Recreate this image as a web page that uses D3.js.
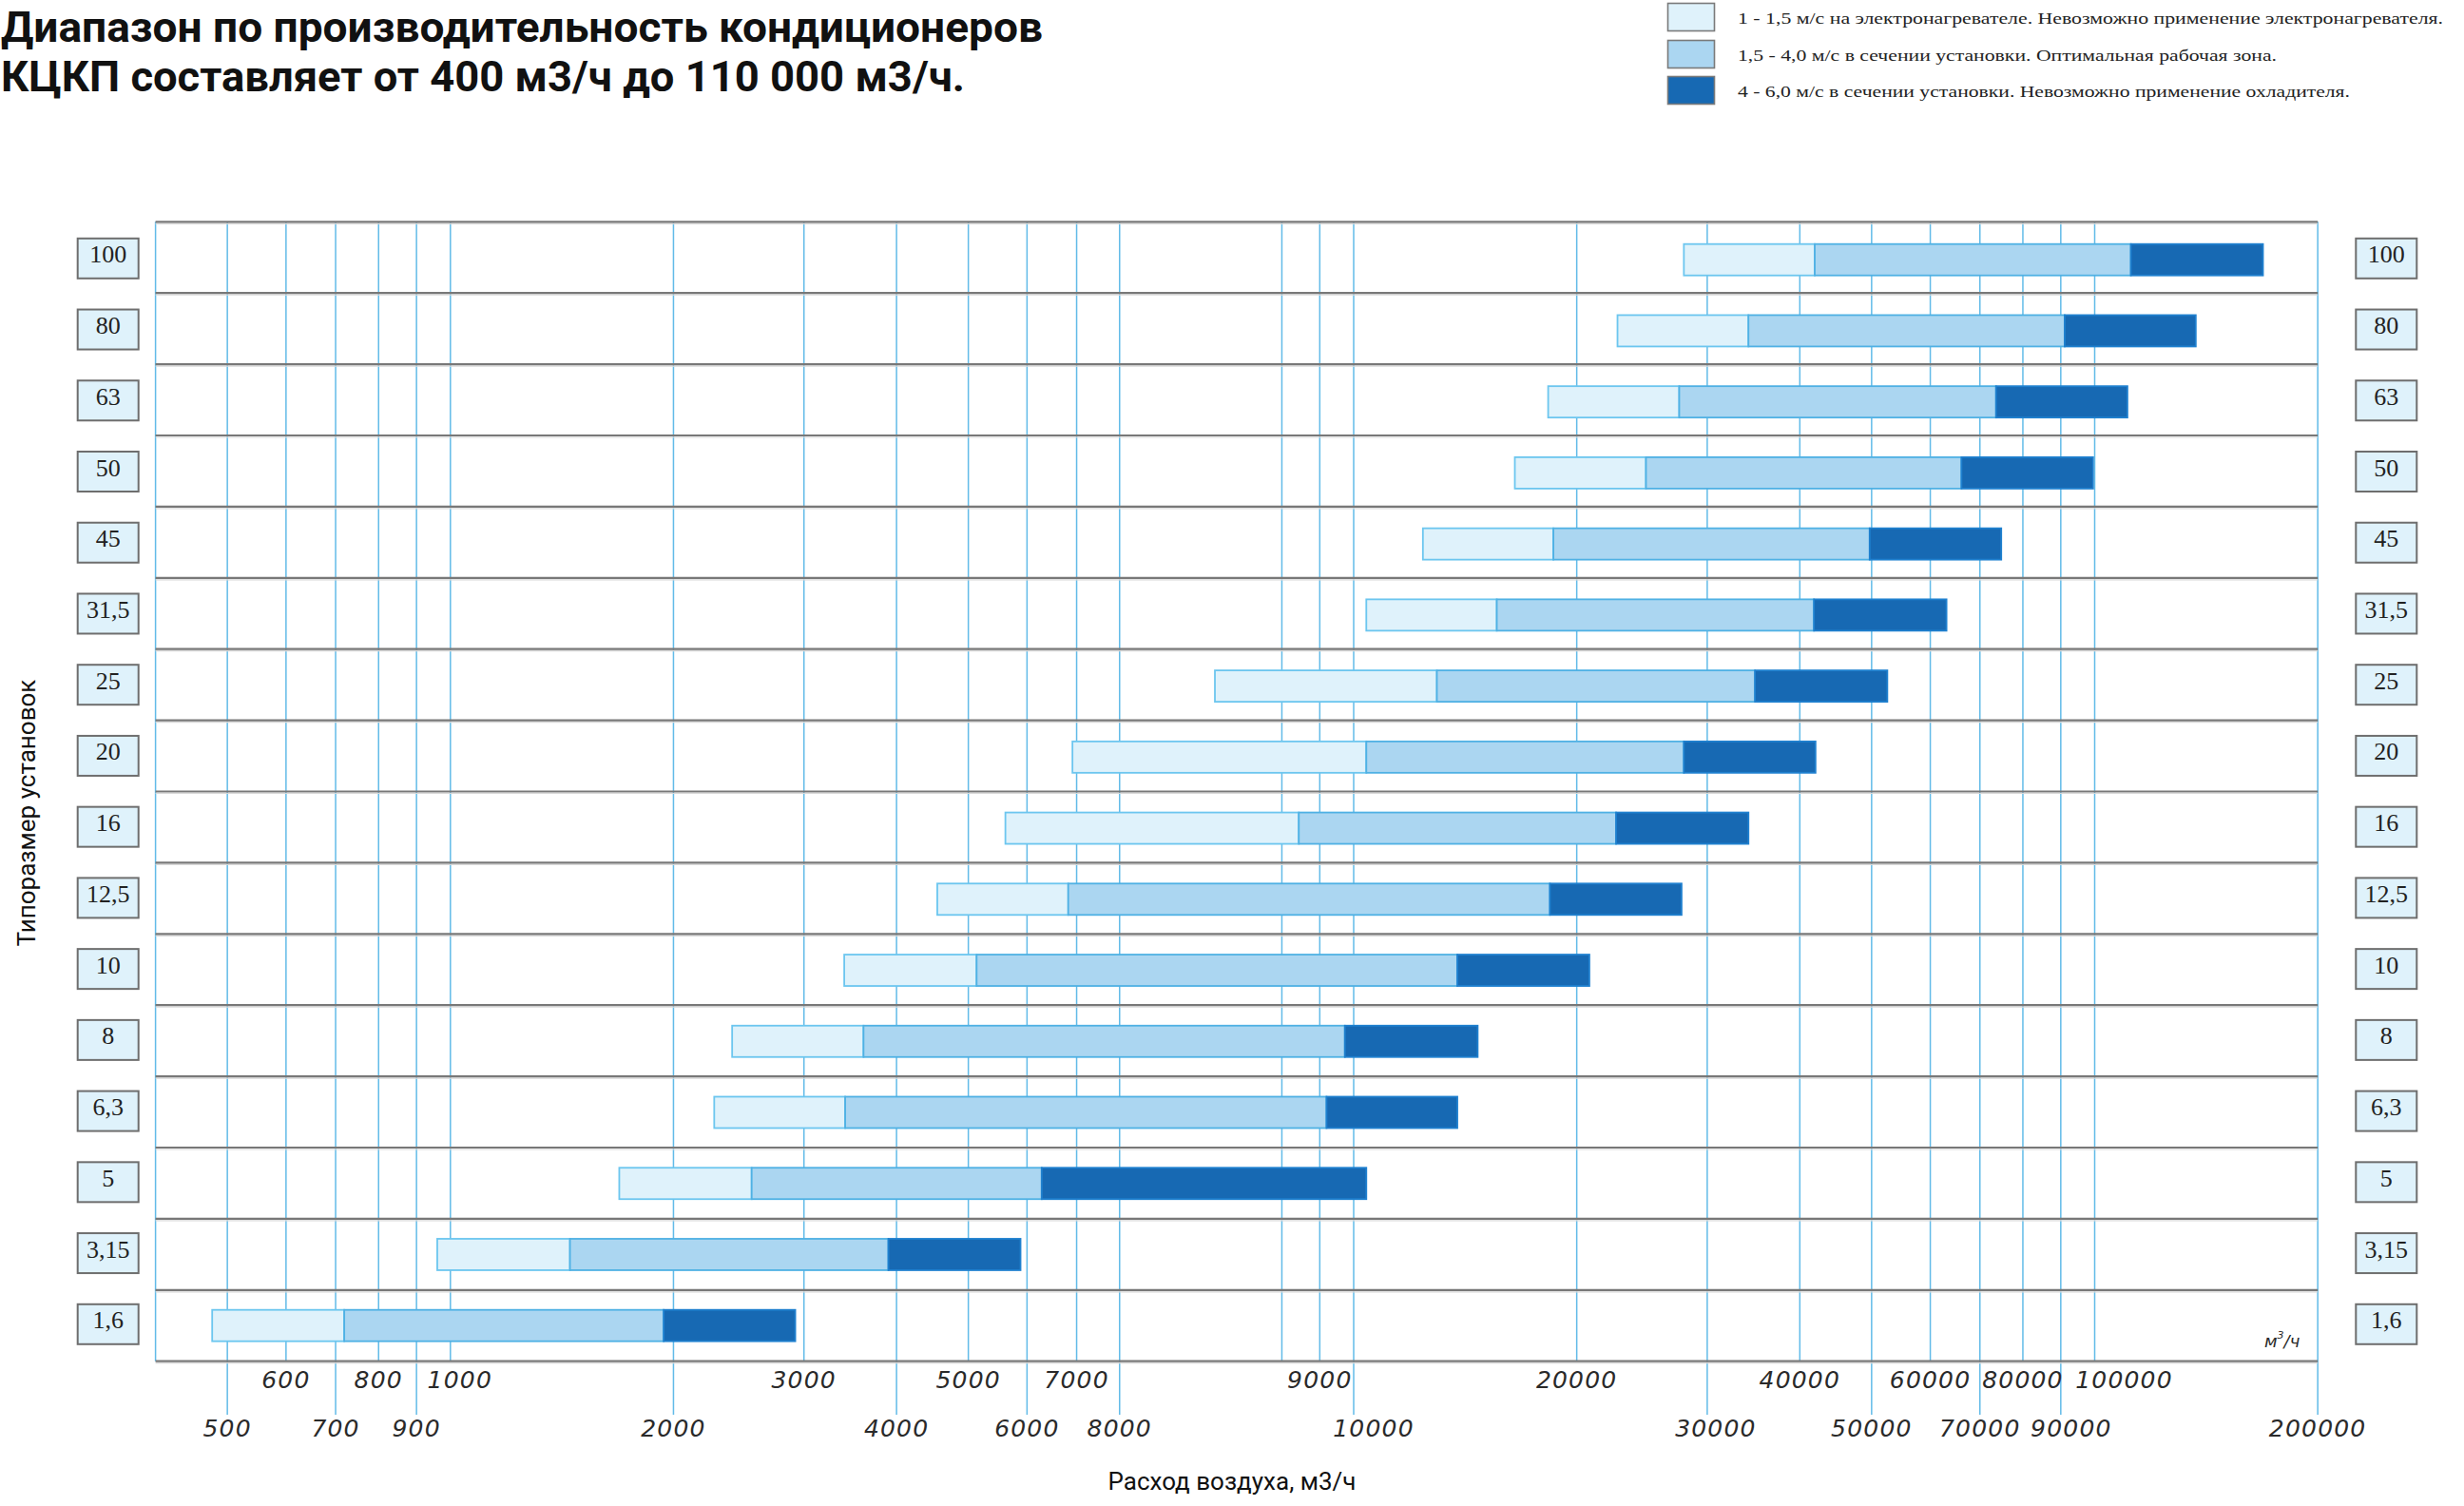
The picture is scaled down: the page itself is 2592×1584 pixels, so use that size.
<!DOCTYPE html>
<html><head><meta charset="utf-8">
<script src="https://cdn.jsdelivr.net/npm/d3@7"></script>
<style>body{margin:0;background:#fff}svg{display:block}</style>
</head><body>
<svg id="c" width="2592" height="1584"></svg>
<script>
// ---------- DATA ----------
const sizes = ["100","80","63","50","45","31,5","25","20","16","12,5","10","8","6,3","5","3,15","1,6"];
// air flow, m3/h, at section velocity 1.0 / 1.5 / 4.0 / 6.0 m/s
const flowV10 = [27900, 22700, 18300, 16500, 12400, 10400, 8290, 6910, 5610, 4540, 3400, 2400, 2270, 1690, 960, 477];
const flowV15 = [41900, 34100, 27500, 24800, 18600, 15600, 12950, 10400, 8720, 6820, 5130, 3610, 3410, 2550, 1450, 719];
const flowV40 = [111900, 91100, 73600, 66100, 49700, 41800, 34800, 27900, 22600, 18400, 13800, 9730, 9190, 6280, 3900, 1940];
const flowV60 = [168700, 136900, 110700, 99500, 74800, 63100, 52500, 42000, 34100, 27700, 20800, 14700, 13800, 10400, 5880, 2920];
const tickTopRow = [600, 800, 1000, 3000, 5000, 7000, 9000, 20000, 40000, 60000, 80000, 100000];
const tickBottomRow = [500, 700, 900, 2000, 4000, 6000, 8000, 10000, 30000, 50000, 70000, 90000, 200000];
const tickUnlabeled = [8500];
const legendLabels = [
  "1 - 1,5 м/с на электронагревателе. Невозможно применение электронагревателя.",
  "1,5 - 4,0 м/с в сечении установки. Оптимальная рабочая зона.",
  "4 - 6,0 м/с в сечении установки. Невозможно применение охладителя."
];
const titleLines = ["Диапазон по производительность кондиционеров", "КЦКП составляет от 400 м3/ч до 110 000 м3/ч."];
const xTitle = "Расход воздуха, м3/ч";
const yTitle = "Типоразмер установок";
const unitLabel = "м";

// ---------- LAYOUT ----------
const svg = d3.select("#c");
const DEC = 779.5, X1K = 473.8, X10K = 1424;
const lx = v => X1K + DEC * Math.log10(v / 1000);
const ux = v => X10K + DEC * Math.log10(v / 10000);
// broken log axis (gap between 8000 and 8500)
const x = d3.scaleLog()
  .domain([400, 8000, 8500, 9000, 200000])
  .range([lx(400), lx(8000), ux(8000), ux(9000), ux(200000)]);
const yTop = 233.3, yBottom = 1431.7;
const yRow = d3.scaleBand().domain(sizes).range([yTop, yBottom]);
const yMark = d3.scalePoint().domain(sizes).range([273.2, 1394.2]);
const xL = x(400), xR = x(200000);

const segFill = ["#dff2fb", "#abd6f1", "#1769b3"];
const segStroke = ["#6cc6ef", "#4fb1e4", "#1f80cf"];
const gridColor = "#62bbe8";
const rowLineColor = "#787878";

// gridlines
const gGrid = svg.append("g");
const allGrid = [...tickTopRow.map(v => ({v, ext: false})),
                 ...tickBottomRow.map(v => ({v, ext: true})),
                 ...tickUnlabeled.map(v => ({v, ext: false}))];
gGrid.selectAll("line").data(allGrid).join("line")
  .attr("x1", d => x(d.v)).attr("x2", d => x(d.v))
  .attr("y1", yTop).attr("y2", d => d.ext ? 1488 : yBottom)
  .attr("stroke", gridColor).attr("stroke-width", 1.5);
gGrid.append("line").attr("x1", xL).attr("x2", xL).attr("y1", yTop).attr("y2", yBottom)
  .attr("stroke", gridColor).attr("stroke-width", 1.5);

// row lines
const rowYs = sizes.map(s => yRow(s)).concat([yBottom]);
svg.append("g").selectAll("line").data(rowYs).join("line")
  .attr("x1", xL).attr("x2", xR).attr("y1", d => d + 2).attr("y2", d => d + 2)
  .attr("stroke", "#d8d8d8").attr("stroke-width", 1.2);
svg.append("g").selectAll("line").data(rowYs).join("line")
  .attr("x1", xL).attr("x2", xR).attr("y1", d => d).attr("y2", d => d)
  .attr("stroke", rowLineColor).attr("stroke-width", 2.2);

// bars
const segs = [];
sizes.forEach((s, i) => {
  const pts = [flowV10[i], flowV15[i], flowV40[i], flowV60[i]];
  for (let k = 0; k < 3; k++) segs.push({s, k, a: pts[k], b: pts[k + 1]});
});
const barH = 33;
svg.append("g").selectAll("rect").data(segs).join("rect")
  .attr("x", d => x(d.a)).attr("width", d => x(d.b) - x(d.a))
  .attr("y", d => yMark(d.s) - barH / 2).attr("height", barH)
  .attr("fill", d => segFill[d.k]).attr("stroke", d => segStroke[d.k]).attr("stroke-width", 1.8);

// size boxes, left and right
const boxW = 64, boxH = 42;
[81.7, 2478.3].forEach(bx => {
  const g = svg.append("g");
  g.selectAll("rect").data(sizes).join("rect")
    .attr("x", bx).attr("y", s => yMark(s) - 1.4 - boxH / 2)
    .attr("width", boxW).attr("height", boxH)
    .attr("fill", "#dff2fb").attr("stroke", "#6e6e6e").attr("stroke-width", 2);
  g.selectAll("text").data(sizes).join("text")
    .attr("x", bx + boxW / 2).attr("y", s => yMark(s) - 1.4 - boxH / 2 + 25.5)
    .attr("text-anchor", "middle")
    .attr("font-family", "'Liberation Serif', 'Times New Roman', serif")
    .attr("font-size", 26).attr("fill", "#222").text(s => s);
});

// tick labels
const dxMap = {1000: 10, 10000: 21, 100000: 31, 30000: 9, 90000: 11};
const tickFont = g => g.attr("font-family", "'DejaVu Sans', sans-serif").attr("font-style", "italic")
  .attr("font-size", 25).attr("letter-spacing", 1.2).attr("fill", "#2a2a2a").attr("text-anchor", "middle");
svg.append("g").call(tickFont).selectAll("text").data(tickTopRow).join("text")
  .attr("x", v => x(v) + (dxMap[v] || 0)).attr("y", 1460).text(v => String(v));
svg.append("g").call(tickFont).selectAll("text").data(tickBottomRow).join("text")
  .attr("x", v => x(v) + (dxMap[v] || 0)).attr("y", 1511).text(v => String(v));

// unit label
const ut = svg.append("text").attr("x", 2382).attr("y", 1417)
  .attr("font-family", "'DejaVu Sans', sans-serif").attr("font-style", "italic")
  .attr("font-size", 18).attr("fill", "#2a2a2a");
ut.append("tspan").text(unitLabel);
ut.append("tspan").attr("dy", -9).attr("font-size", 11).text("3");
ut.append("tspan").attr("dy", 9).text("/ч");

// axis titles
svg.append("text").attr("x", 1296).attr("y", 1567).attr("text-anchor", "middle")
  .attr("font-family", "Roboto, sans-serif").attr("font-size", 26).attr("fill", "#111").text(xTitle);
svg.append("text").attr("transform", "translate(37,855) rotate(-90)").attr("text-anchor", "middle")
  .attr("font-family", "Roboto, sans-serif").attr("font-size", 26).attr("fill", "#111").text(yTitle);

// title
const titleLens = [1096, 1014];
svg.append("g").selectAll("text").data(titleLines).join("text")
  .attr("x", 1).attr("y", (d, i) => 44 + i * 52)
  .attr("font-family", "Roboto, sans-serif").attr("font-weight", 700).attr("font-size", 44)
  .attr("fill", "#111")
  .attr("textLength", (d, i) => titleLens[i]).attr("lengthAdjust", "spacingAndGlyphs")
  .text(d => d);

// legend
const legY = [3.5, 42.5, 80.5];
const legLens = [742, 567, 644];
const lg = svg.append("g");
lg.selectAll("rect").data(legendLabels).join("rect")
  .attr("x", 1754.5).attr("y", (d, i) => legY[i]).attr("width", 49).attr("height", 29)
  .attr("fill", (d, i) => segFill[i]).attr("stroke", "#7a7a7a").attr("stroke-width", 1.6);
lg.selectAll("text").data(legendLabels).join("text")
  .attr("x", 1828).attr("y", (d, i) => legY[i] + 21)
  .attr("font-family", "'Liberation Serif', 'Times New Roman', serif").attr("font-size", 17)
  .attr("fill", "#222")
  .attr("textLength", (d, i) => legLens[i]).attr("lengthAdjust", "spacingAndGlyphs")
  .text(d => d);
</script>
</body></html>
